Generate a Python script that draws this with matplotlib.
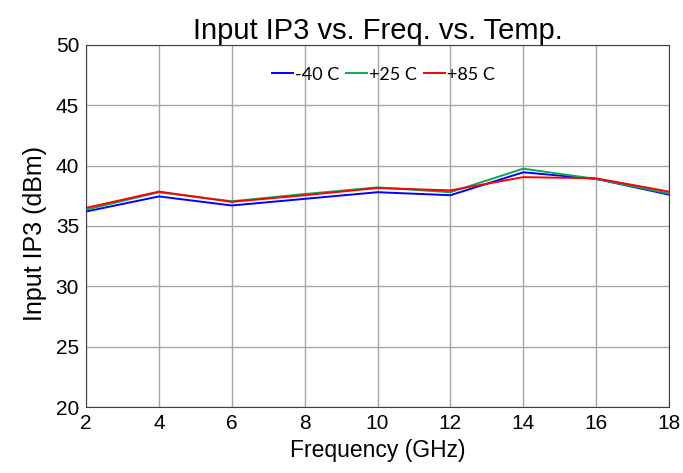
import matplotlib
matplotlib.use('Agg')
from matplotlib import pyplot as plt

freq = [2, 4, 6, 8, 10, 12, 14, 16, 18]
ip3_m40 = [36.2, 37.45, 36.7, 37.25, 37.8, 37.55, 39.45, 38.9, 37.6]
ip3_p25 = [36.35, 37.8, 37.05, 37.65, 38.2, 37.8, 39.75, 38.9, 37.7]
ip3_p85 = [36.5, 37.85, 37.0, 37.55, 38.15, 37.95, 39.05, 38.95, 37.85]

plt.rcParams['font.family'] = ['Liberation Sans', 'DejaVu Sans']

fig = plt.figure(figsize=(6.83, 4.73), dpi=100)
ax = fig.add_axes([0.126, 0.1395, 0.8535, 0.7654])

ax.plot(freq, ip3_m40, color='#0000ff', lw=1.4, label='-40 C')
ax.plot(freq, ip3_p25, color='#00b050', lw=1.4, label='+25 C')
ax.plot(freq, ip3_p85, color='#ff0000', lw=1.4, label='+85 C')

ax.set_xlim(2, 18)
ax.set_ylim(20, 50)
ax.set_xticks(range(2, 19, 2))
ax.set_yticks(range(20, 51, 5))
ax.grid(True, color='#a6a6a6', lw=1)
ax.tick_params(labelsize=15, length=0, pad=5)
for s in ax.spines.values():
    s.set_color('#404040')

ax.set_title('Input IP3 vs. Freq. vs. Temp.', fontsize=21, pad=3)
ax.set_xlabel('Frequency (GHz)', fontsize=16.5, labelpad=4)
ax.set_ylabel('Input IP3 (dBm)', fontsize=18, labelpad=6, y=0.48)

leg = ax.legend(loc='upper center', bbox_to_anchor=(0.51, 0.985), ncol=3, frameon=False,
                handlelength=1.15, handletextpad=0.1, columnspacing=0.4,
                prop={'family': ['Lato', 'DejaVu Sans'], 'size': 13})

fig.savefig('out.png', dpi=100)
